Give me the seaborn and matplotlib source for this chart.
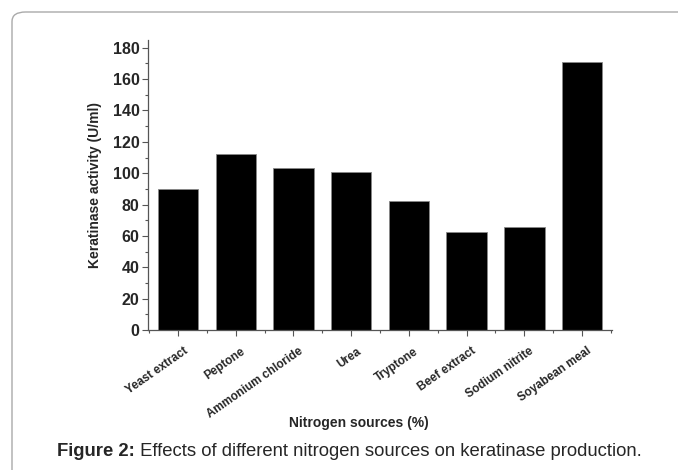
import matplotlib
matplotlib.use("Agg")
import matplotlib.pyplot as plt
import matplotlib.transforms as mtransforms
import seaborn as sns
import pandas as pd
from matplotlib.patches import FancyBboxPatch
from matplotlib.ticker import MultipleLocator, FixedLocator

sources = ["Yeast extract", "Peptone", "Ammonium chloride", "Urea", "Tryptone",
           "Beef extract", "Sodium nitrite", "Soyabean meal"]
activity = [90, 112.5, 103.6, 101, 82.3, 62.6, 65.7, 171.2]

df = pd.DataFrame({"source": sources, "activity": activity})

sns.set_theme(style="ticks")
plt.rcParams["font.family"] = ["Liberation Sans", "DejaVu Sans"]

fig = plt.figure(figsize=(6.78, 4.70), dpi=100)
ax = fig.add_axes([0.2183, 0.2979, 0.9027 - 0.2183, 0.915 - 0.2979])

sns.barplot(data=df, x="source", y="activity", color="black", width=0.7,
            edgecolor="#888888", linewidth=0.6, saturation=1, ax=ax)

ax.set_xlim(-0.52, 7.52)
ax.set_ylim(0, 185)
ax.yaxis.set_major_locator(MultipleLocator(20))
ax.yaxis.set_minor_locator(MultipleLocator(10))
ax.xaxis.set_minor_locator(FixedLocator([i + 0.5 for i in range(-1, 8)]))
for s in ["top", "right"]:
    ax.spines[s].set_visible(False)
for s in ["left", "bottom"]:
    ax.spines[s].set_color("#555555")
    ax.spines[s].set_linewidth(0.9)
ax.tick_params(axis="both", which="major", direction="out", length=4, width=0.8, color="#555555")
ax.tick_params(axis="both", which="minor", direction="out", length=2, width=0.8, color="#555555")
ax.tick_params(axis="y", labelsize=11.5, pad=2)
for t in ax.get_yticklabels():
    t.set_fontweight("bold")
ax.set_xticks(range(len(sources)))
ax.set_xticklabels(sources, rotation=35, ha="right", rotation_mode="anchor",
                   fontsize=8.5, fontweight="bold")
ax.tick_params(axis="x", pad=7)
offset = mtransforms.ScaledTranslation(5 / 100, 0, fig.dpi_scale_trans)
for t in ax.get_xticklabels():
    t.set_transform(t.get_transform() + offset)

ax.set_ylabel("Keratinase activity (U/ml)", fontsize=10, fontweight="bold", labelpad=8)
ax.set_xlabel("")
fig.text(0.5295, 1 - 423 / 470, "Nitrogen sources (%)", fontsize=10, fontweight="bold",
         ha="center", va="center")

cap_y = 1 - 452 / 470
t1 = fig.text(57 / 678, cap_y, "Figure 2:", fontsize=13.3, fontweight="bold",
              ha="left", va="center")
fig.canvas.draw()
bb = t1.get_window_extent()
fig.text(bb.x1 / fig.bbox.width, cap_y,
         " Effects of different nitrogen sources on keratinase production.",
         fontsize=13.3, ha="left", va="center")

box = FancyBboxPatch((12 / 678, -0.05), 1.05, 1 - 12 / 470 + 0.05,
                     boxstyle="round,pad=0,rounding_size=0.02",
                     transform=fig.transFigure, fill=False, edgecolor="#aaaaaa",
                     linewidth=1.0, clip_on=False)
fig.patches.append(box)

fig.savefig("out.png", dpi=100)
